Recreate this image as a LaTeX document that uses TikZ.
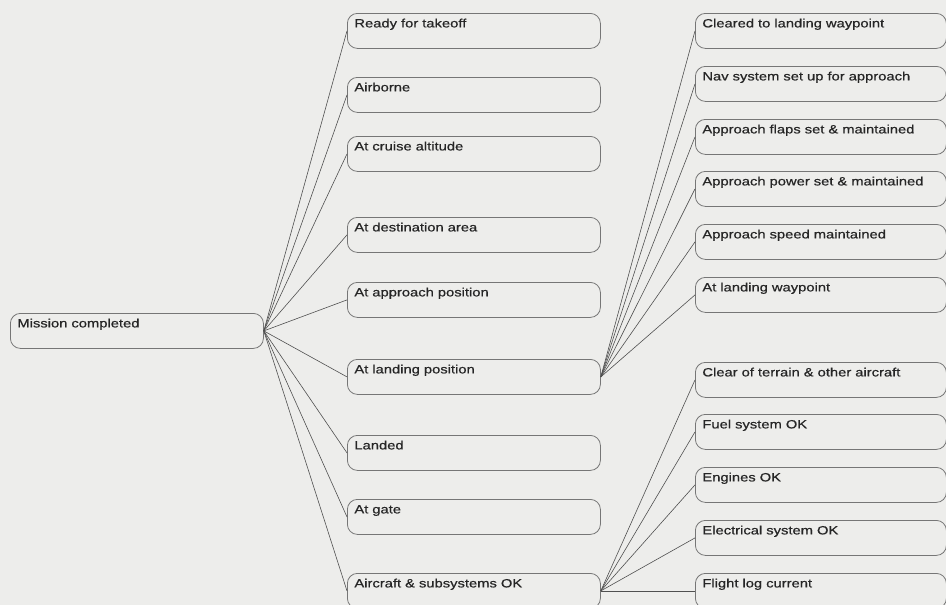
\documentclass[tikz,border=0pt]{standalone}
\usepackage{fontspec}
\newfontfamily\goalfont[FakeStretch=1.23,FakeBold=0.6]{Liberation Sans}
\usetikzlibrary{calc}

\definecolor{paper}{RGB}{237,237,235}
\definecolor{rim}{RGB}{118,118,118}
\definecolor{wire}{RGB}{80,80,80}

\tikzset{
    goal/.style={draw=rim, line width=0.8pt, rounded corners=10pt, anchor=north west,
        text width=239pt, align=left, inner xsep=7pt, inner ysep=4pt,
        text height=10pt, text depth=17pt, text=black!85,
        font=\goalfont\fontsize{12}{14}\selectfont},
    subgoal/.style={goal, text width=237pt},
    link/.style={draw=wire, line width=0.6pt}
}

\begin{document}
\begin{tikzpicture}[x=1pt,y=-1pt]
                    \fill[paper] (0,0) rectangle (946,605);
                    \useasboundingbox (0,0) rectangle (946,605);

                    \node[goal] (M) at (10,313) {Mission completed};

                    \node[goal] (A1) at (347,13) {Ready for takeoff};
                    \node[goal] (A2) at (347,77) {Airborne};
                    \node[goal] (A3) at (347,136) {At cruise altitude};
                    \node[goal] (A4) at (347,217) {At destination area};
                    \node[goal] (A5) at (347,282) {At approach position};
                    \node[goal] (A6) at (347,359) {At landing position};
                    \node[goal] (A7) at (347,435) {Landed};
                    \node[goal] (A8) at (347,499) {At gate};
                    \node[goal] (A9) at (347,573) {Aircraft \& subsystems OK};

                    \node[subgoal] (B1) at (695,13) {Cleared to landing waypoint};
                    \node[subgoal] (B2) at (695,66) {Nav system set up for approach};
                    \node[subgoal] (B3) at (695,119) {Approach flaps set \& maintained};
                    \node[subgoal] (B4) at (695,171) {Approach power set \& maintained};
                    \node[subgoal] (B5) at (695,224) {Approach speed maintained};
                    \node[subgoal] (B6) at (695,277) {At landing waypoint};

                    \node[subgoal] (C1) at (695,362) {Clear of terrain \& other aircraft};
                    \node[subgoal] (C2) at (695,414) {Fuel system OK};
                    \node[subgoal] (C3) at (695,467) {Engines OK};
                    \node[subgoal] (C4) at (695,520) {Electrical system OK};
                    \node[subgoal] (C5) at (695,573) {Flight log current};

                    \draw[link] (M.east) -- (A1.west);
                    \draw[link] (M.east) -- (A2.west);
                    \draw[link] (M.east) -- (A3.west);
                    \draw[link] (M.east) -- (A4.west);
                    \draw[link] (M.east) -- (A5.west);
                    \draw[link] (M.east) -- (A6.west);
                    \draw[link] (M.east) -- (A7.west);
                    \draw[link] (M.east) -- (A8.west);
                    \draw[link] (M.east) -- (A9.west);

                    \draw[link] (A6.east) -- (B1.west);
                    \draw[link] (A6.east) -- (B2.west);
                    \draw[link] (A6.east) -- (B3.west);
                    \draw[link] (A6.east) -- (B4.west);
                    \draw[link] (A6.east) -- (B5.west);
                    \draw[link] (A6.east) -- (B6.west);

                    \draw[link] (A9.east) -- (C1.west);
                    \draw[link] (A9.east) -- (C2.west);
                    \draw[link] (A9.east) -- (C3.west);
                    \draw[link] (A9.east) -- (C4.west);
                    \draw[link] (A9.east) -- (C5.west);
                \end{tikzpicture}
\end{document}
